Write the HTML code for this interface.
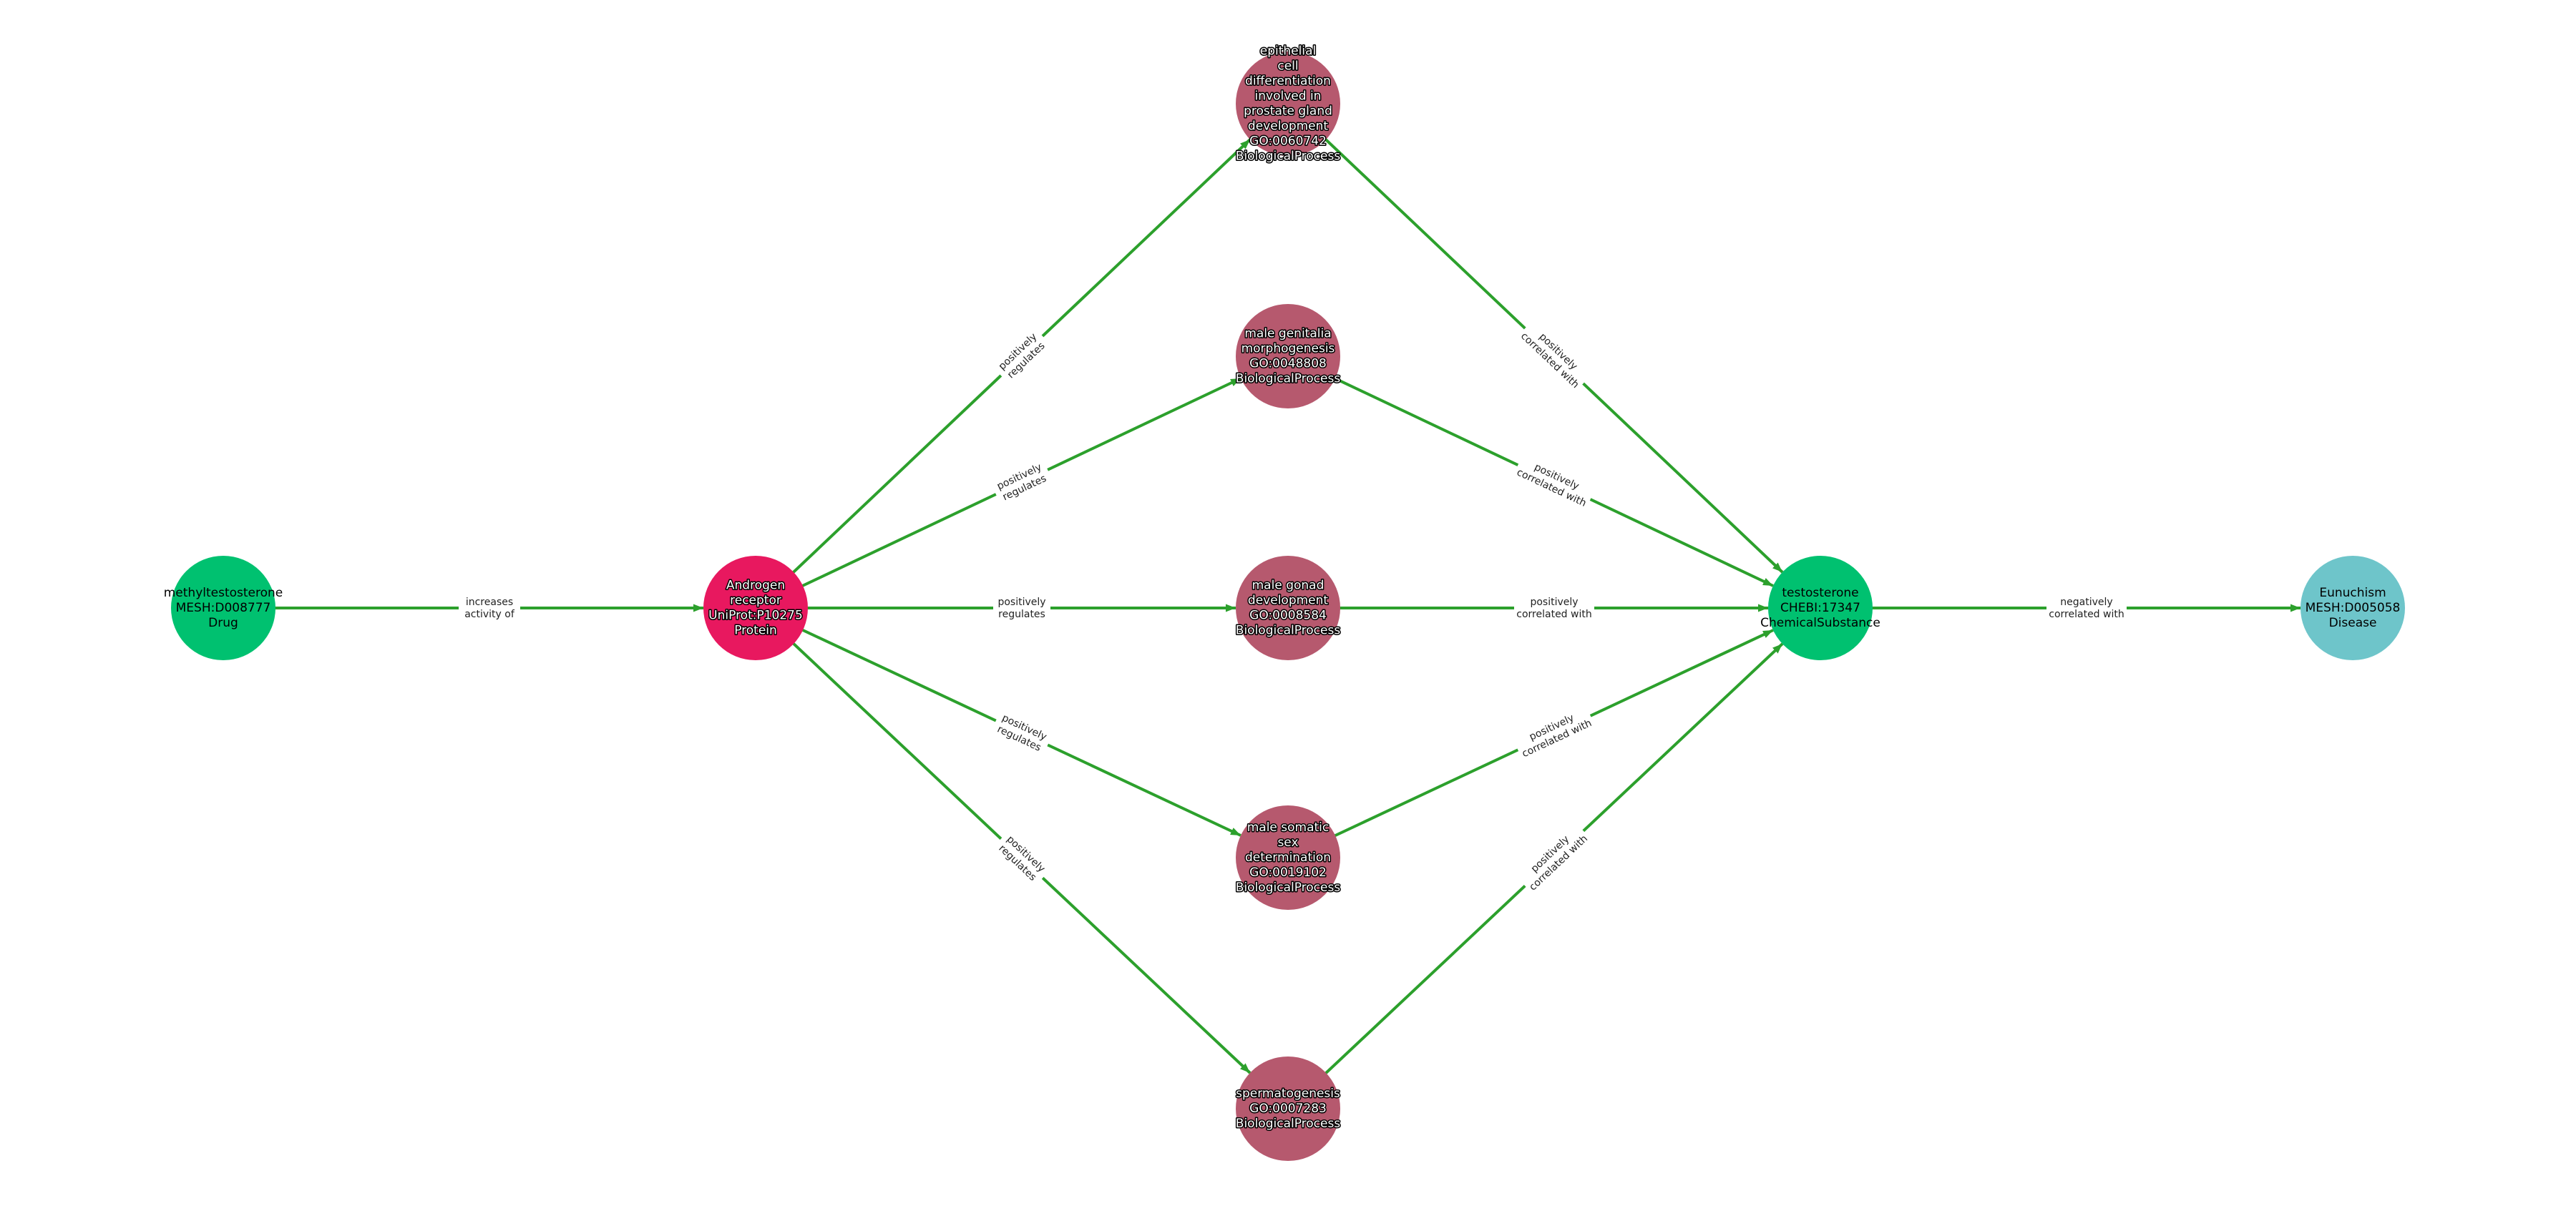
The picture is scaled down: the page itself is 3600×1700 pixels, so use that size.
<!DOCTYPE html>
<html><head><meta charset="utf-8"><style>
html,body{margin:0;padding:0;background:#fff;}
svg{display:block;font-family:"DejaVu Sans","Liberation Sans",sans-serif;}
.el{font-size:14px;fill:#222;}
.nw{font-size:17px;fill:#fff;stroke:#000;stroke-width:3px;paint-order:stroke;stroke-linejoin:round;}
.nb{font-size:17px;fill:#000;}
</style></head><body>
<svg width="3600" height="1700" viewBox="0 0 3600 1700" xmlns="http://www.w3.org/2000/svg">
<defs>
<marker id="ar" markerUnits="userSpaceOnUse" markerWidth="16" markerHeight="12" refX="14" refY="5.5" orient="auto">
<path d="M0,0 L14,5.5 L0,11 Z" fill="#2ca02c"/>
</marker>
</defs>
<g stroke="#2ca02c" stroke-width="4" fill="none" marker-end="url(#ar)">
<line x1="312" y1="850" x2="983" y2="850"/>
<line x1="1056" y1="850" x2="1747" y2="195"/>
<line x1="1056" y1="850" x2="1734" y2="529"/>
<line x1="1056" y1="850" x2="1727" y2="850"/>
<line x1="1056" y1="850" x2="1734" y2="1168"/>
<line x1="1056" y1="850" x2="1747" y2="1500"/>
<line x1="1800" y1="145" x2="2491" y2="800"/>
<line x1="1800" y1="498" x2="2478" y2="819"/>
<line x1="1800" y1="850" x2="2471" y2="850"/>
<line x1="1800" y1="1199" x2="2478" y2="881"/>
<line x1="1800" y1="1550" x2="2491" y2="900"/>
<line x1="2544" y1="850" x2="3215" y2="850"/>
</g>
<g text-anchor="middle" class="el">
<g transform="translate(684,850)"><rect x="-43" y="-19" width="86" height="38" fill="#fff"/><text y="-4">increases</text><text y="13">activity of</text></g>
<g transform="translate(1428,497.5) rotate(-43.5)"><rect x="-40" y="-19" width="80" height="38" fill="#fff"/><text y="-4">positively</text><text y="13">regulates</text></g>
<g transform="translate(1428,674) rotate(-25.3)"><rect x="-40" y="-19" width="80" height="38" fill="#fff"/><text y="-4">positively</text><text y="13">regulates</text></g>
<g transform="translate(1428,850)"><rect x="-40" y="-19" width="80" height="38" fill="#fff"/><text y="-4">positively</text><text y="13">regulates</text></g>
<g transform="translate(1428,1024.5) rotate(25.1)"><rect x="-40" y="-19" width="80" height="38" fill="#fff"/><text y="-4">positively</text><text y="13">regulates</text></g>
<g transform="translate(1428,1200) rotate(43.3)"><rect x="-40" y="-19" width="80" height="38" fill="#fff"/><text y="-4">positively</text><text y="13">regulates</text></g>
<g transform="translate(2172,497.5) rotate(43.5)"><rect x="-56" y="-19" width="112" height="38" fill="#fff"/><text y="-4">positively</text><text y="13">correlated with</text></g>
<g transform="translate(2172,674) rotate(25.3)"><rect x="-56" y="-19" width="112" height="38" fill="#fff"/><text y="-4">positively</text><text y="13">correlated with</text></g>
<g transform="translate(2172,850)"><rect x="-56" y="-19" width="112" height="38" fill="#fff"/><text y="-4">positively</text><text y="13">correlated with</text></g>
<g transform="translate(2172,1024.5) rotate(-25.1)"><rect x="-56" y="-19" width="112" height="38" fill="#fff"/><text y="-4">positively</text><text y="13">correlated with</text></g>
<g transform="translate(2172,1200) rotate(-43.3)"><rect x="-56" y="-19" width="112" height="38" fill="#fff"/><text y="-4">positively</text><text y="13">correlated with</text></g>
<g transform="translate(2916,850)"><rect x="-56" y="-19" width="112" height="38" fill="#fff"/><text y="-4">negatively</text><text y="13">correlated with</text></g>
</g>
<circle cx="312" cy="850" r="73" fill="#00c170"/>
<circle cx="1056" cy="850" r="73" fill="#e8185f"/>
<circle cx="1800" cy="145" r="73" fill="#b6596e"/>
<circle cx="1800" cy="498" r="73" fill="#b6596e"/>
<circle cx="1800" cy="850" r="73" fill="#b6596e"/>
<circle cx="1800" cy="1199" r="73" fill="#b6596e"/>
<circle cx="1800" cy="1550" r="73" fill="#b6596e"/>
<circle cx="2544" cy="850" r="73" fill="#00c170"/>
<circle cx="3288" cy="850" r="73" fill="#6ec5ca"/>
<g text-anchor="middle" dominant-baseline="central">
<g class="nb"><text x="312" y="829">methyltestosterone</text><text x="312" y="850">MESH:D008777</text><text x="312" y="871">Drug</text></g>
<g class="nw"><text x="1056" y="818.5">Androgen</text><text x="1056" y="839.5">receptor</text><text x="1056" y="860.5">UniProt:P10275</text><text x="1056" y="881.5">Protein</text></g>
<g class="nw"><text x="1800" y="71.5">epithelial</text><text x="1800" y="92.5">cell</text><text x="1800" y="113.5">differentiation</text><text x="1800" y="134.5">involved in</text><text x="1800" y="155.5">prostate gland</text><text x="1800" y="176.5">development</text><text x="1800" y="197.5">GO:0060742</text><text x="1800" y="218.5">BiologicalProcess</text></g>
<g class="nw"><text x="1800" y="466.5">male genitalia</text><text x="1800" y="487.5">morphogenesis</text><text x="1800" y="508.5">GO:0048808</text><text x="1800" y="529.5">BiologicalProcess</text></g>
<g class="nw"><text x="1800" y="818.5">male gonad</text><text x="1800" y="839.5">development</text><text x="1800" y="860.5">GO:0008584</text><text x="1800" y="881.5">BiologicalProcess</text></g>
<g class="nw"><text x="1800" y="1157">male somatic</text><text x="1800" y="1178">sex</text><text x="1800" y="1199">determination</text><text x="1800" y="1220">GO:0019102</text><text x="1800" y="1241">BiologicalProcess</text></g>
<g class="nw"><text x="1800" y="1529">spermatogenesis</text><text x="1800" y="1550">GO:0007283</text><text x="1800" y="1571">BiologicalProcess</text></g>
<g class="nb"><text x="2544" y="829">testosterone</text><text x="2544" y="850">CHEBI:17347</text><text x="2544" y="871">ChemicalSubstance</text></g>
<g class="nb"><text x="3288" y="829">Eunuchism</text><text x="3288" y="850">MESH:D005058</text><text x="3288" y="871">Disease</text></g>
</g>
</svg>
</body></html>
